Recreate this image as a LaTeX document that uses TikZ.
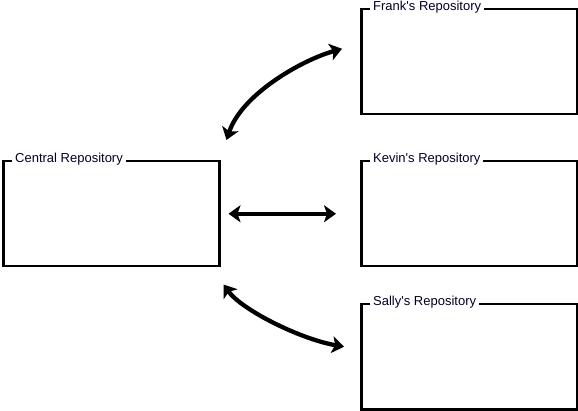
\documentclass[tikz,border=0pt]{standalone}
\usepackage{fontspec}
\setmainfont{Liberation Sans}
\usetikzlibrary{arrows.meta}
\tikzset{
  repobox/.style={draw=black, line width=2.5pt, minimum width=216pt, minimum height=105pt, inner sep=0pt, anchor=north west},
  repolabel/.style={fill=white, inner xsep=3pt, inner ysep=1pt, anchor=base west, text=black!85!blue, font=\fontsize{13pt}{15pt}\selectfont},
  dblarrow/.style={line width=4.3pt, {Stealth[length=12pt,width=17pt,inset=3pt]}-{Stealth[length=12pt,width=17pt,inset=3pt]}}
}
\begin{document}
\begin{tikzpicture}[x=1pt,y=-1pt]
\useasboundingbox (0,0) rectangle (578,411);
\node[repobox] (central) at (2,160) {};
\node[repobox] (frank) at (360,8) {};
\node[repobox] (kevin) at (360,160) {};
\node[repobox] (sally) at (360,303) {};
\node[repolabel] (centrallbl) at ([xshift=10pt,yshift=-3pt]central.north west) {Central Repository};
\node[repolabel] (franklbl) at ([xshift=10pt,yshift=-3pt]frank.north west) {Frank\textquotesingle s Repository};
\node[repolabel] (kevinlbl) at ([xshift=10pt,yshift=-3pt]kevin.north west) {Kevin\textquotesingle s Repository};
\node[repolabel] (sallylbl) at ([xshift=10pt,yshift=-3pt]sally.north west) {Sally\textquotesingle s Repository};
\draw[dblarrow] ([xshift=8pt]central.east) -- ([xshift=-24pt]kevin.west);
\draw[dblarrow] ([xshift=6pt,yshift=20pt]central.north east) .. controls +(15,-45) and +(-42,12) .. ([xshift=-18pt,yshift=13pt]frank.west);
\draw[dblarrow] ([xshift=3pt,yshift=-17pt]central.south east) .. controls +(18,25) and +(-45,-8) .. ([xshift=-16pt,yshift=10pt]sally.west);
\end{tikzpicture}
\end{document}
